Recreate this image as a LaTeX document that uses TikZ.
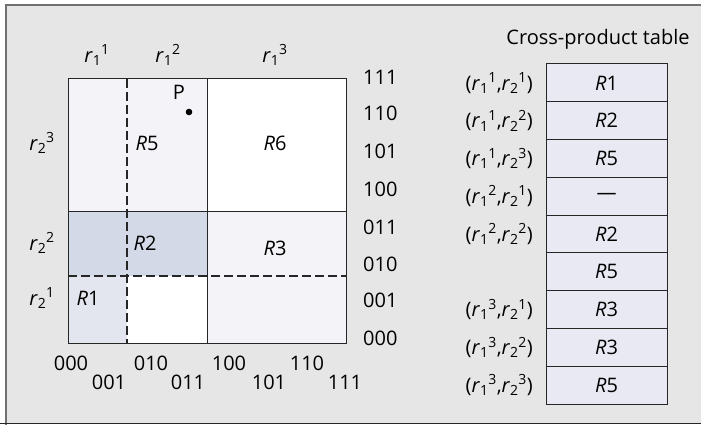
\documentclass[tikz,border=0pt]{standalone}
\usepackage{fontspec}
\setmainfont{Open Sans}
\newcommand\rsub[2]{\textit{r}\textsubscript{#1}\kern-0.3pt\textsuperscript{#2}}
\newcommand\RR[1]{\textit{R}#1}
\definecolor{bgc}{HTML}{E6E6E6}
\definecolor{lightc}{HTML}{F3F3F8}
\definecolor{midc}{HTML}{D4D9E7}
\definecolor{ronec}{HTML}{E3E6EF}
\definecolor{cellc}{HTML}{E9E9F3}
\definecolor{framec}{HTML}{707070}
\tikzset{
  gridline/.style={draw=black!85, line width=1pt},
  partline/.style={draw=black!85, line width=2pt, dash pattern=on 9pt off 4pt},
  lbl/.style={inner sep=0pt, font=\fontsize{20}{24}\selectfont},
  cell/.style={draw=black!85, line width=1pt, fill=cellc, minimum width=121pt, minimum height=37.78pt, inner sep=0pt, font=\fontsize{20}{24}\selectfont},
  rowlbl/.style={anchor=east, inner sep=0pt, font=\fontsize{20}{24}\selectfont},
}
\begin{document}
\begin{tikzpicture}[x=1pt,y=-1pt]
\useasboundingbox (0,0) rectangle (701,425);
\fill[white] (0,0) rectangle (701,425);
\fill[bgc] (6,6) rectangle (701,423);
\draw[framec, line width=2pt] (6,425) -- (6,5.5) -- (701,5.5);
\draw[black!85, line width=1.5pt] (0,423.3) -- (701,423.3);
% cells
\fill[lightc] (68,79) rectangle (207,211);
\fill[white] (207,79) rectangle (346,211);
\fill[midc] (68,211) rectangle (207,276);
\fill[lightc] (207,211) rectangle (346,343);
\fill[ronec] (68,276) rectangle (126.5,343);
\fill[white] (126.5,276) rectangle (207,343);
\draw[gridline] (68,79) rectangle (346,343);
\draw[gridline] (207,79) -- (207,343);
\draw[gridline] (68,211) -- (346,211);
\draw[partline] (126.5,79) -- (126.5,343);
\draw[partline] (68,276) -- (346,276);
% axis labels
\node[lbl] (c1) at (97,55) {\rsub{1}{1}};
\node[lbl] (c2) at (168,55) {\rsub{1}{2}};
\node[lbl] (c3) at (275,55) {\rsub{1}{3}};
\node[lbl] (w3) at (42,143) {\rsub{2}{3}};
\node[lbl] (w2) at (42,243) {\rsub{2}{2}};
\node[lbl] (w1) at (42,298) {\rsub{2}{1}};
% region labels
\node[lbl] (R5) at (147,143) {\RR5};
\node[lbl] (R6) at (275,143) {\RR6};
\node[lbl] (R2) at (145,243) {\RR2};
\node[lbl] (R3) at (275,248) {\RR3};
\node[lbl] (R1) at (88,298) {\RR1};
\node[lbl] (P) at (179,92) {P};
\fill (189,112) circle (3.3pt) coordinate (pdot);
% right binary labels
\foreach \t/\y [count=\i] in {111/77,110/113,101/151,100/189,011/227,010/264,001/300,000/338}
  \node[lbl, anchor=west] (y\i) at (363,\y) {\t};
% bottom binary labels
\foreach \t/\x/\y [count=\i] in {000/71/363,001/109/382,010/151/363,011/188/382,100/229/363,101/269/382,110/307/363,111/345/382}
  \node[lbl] (x\i) at (\x,\y) {\t};
% table
\node[lbl] (title) at (598,39) {Cross-product table};
\foreach \e/\l [count=\i] in {%
  \RR1/{(\rsub{1}{1},\rsub{2}{1})},
  \RR2/{(\rsub{1}{1},\rsub{2}{2})},
  \RR5/{(\rsub{1}{1},\rsub{2}{3})},
  {---}/{(\rsub{1}{2},\rsub{2}{1})},
  \RR2/{(\rsub{1}{2},\rsub{2}{2})},
  \RR5/{},
  \RR3/{(\rsub{1}{3},\rsub{2}{1})},
  \RR3/{(\rsub{1}{3},\rsub{2}{2})},
  \RR5/{(\rsub{1}{3},\rsub{2}{3})}}
{
  \node[cell] (t\i) at (606.5,{64+37.78*(\i-0.5)}) {\e};
  \node[rowlbl] (l\i) at (533,{64+37.78*(\i-0.5)}) {\l};
}
\end{tikzpicture}
\end{document}
